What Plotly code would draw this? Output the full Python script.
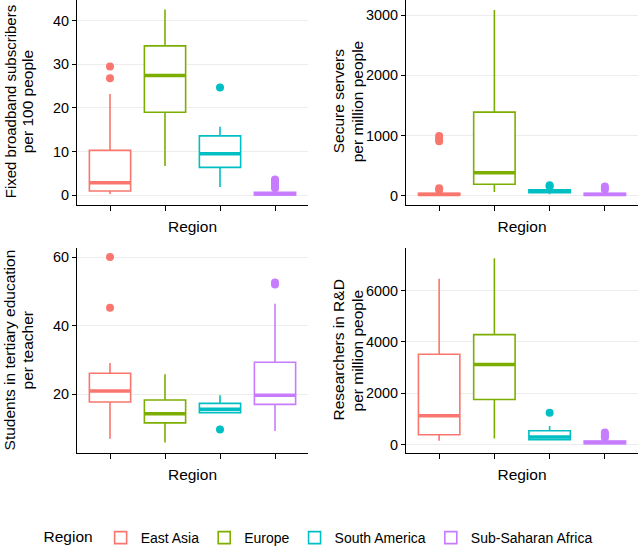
import plotly.graph_objects as go

regions = ["East Asia", "Europe", "South America", "Sub-Saharan Africa"]
colors = ["#F8766D", "#7CAE00", "#00BFC4", "#C77CFF"]
positions = [1, 2, 3, 4]

# Fixed broadband subscribers per 100 people
bb_low = [0.3, 6.7, 1.9, 0.0]
bb_q1 = [1.0, 19.0, 6.4, 0.1]
bb_med = [2.9, 27.4, 9.5, 0.3]
bb_q3 = [10.3, 34.2, 13.6, 0.7]
bb_high = [23.2, 42.5, 15.7, 1.3]
bb_out = [[26.8, 29.5], [], [24.7], [1.6, 2.0, 2.4, 2.8, 3.2, 3.6]]

# Secure servers per million people
ss_low = [0, 60, 20, 0]
ss_q1 = [8, 187, 45, 5]
ss_med = [15, 380, 70, 15]
ss_q3 = [35, 1388, 95, 35]
ss_high = [70, 3090, 120, 80]
ss_out = [[90, 120, 905, 950, 990], [], [150, 170], [100, 125, 150]]

# Students in tertiary education per teacher
st_low = [7.0, 5.9, 14.6, 9.2]
st_q1 = [17.7, 11.6, 14.6, 17.0]
st_med = [20.9, 14.3, 15.6, 19.7]
st_q3 = [26.1, 18.3, 17.3, 29.3]
st_high = [29.1, 25.8, 19.7, 46.4]
st_out = [[45.2, 60.0], [], [9.7], [52.0, 52.6]]

# Researchers in R&D per million people
rd_low = [155, 245, 180, 20]
rd_q1 = [388, 1760, 200, 40]
rd_med = [1126, 3120, 300, 85]
rd_q3 = [3522, 4285, 545, 140]
rd_high = [6460, 7260, 725, 220]
rd_out = [[], [], [1243], [280, 350, 420, 480]]

# y titles, two lines each
bb_title = ["Fixed broadband subscribers", "per 100 people"]
ss_title = ["Secure servers", "per million people"]
st_title = ["Students in tertiary education", "per teacher"]
rd_title = ["Researchers in R&D", "per million people"]

panels = [
    ("x", "y", bb_low, bb_q1, bb_med, bb_q3, bb_high, bb_out),
    ("x2", "y2", ss_low, ss_q1, ss_med, ss_q3, ss_high, ss_out),
    ("x3", "y3", st_low, st_q1, st_med, st_q3, st_high, st_out),
    ("x4", "y4", rd_low, rd_q1, rd_med, rd_q3, rd_high, rd_out),
]

fig = go.Figure()
for p, (xa, ya, lo, q1, med, q3, hi, out) in enumerate(panels):
    for i in range(4):
        fig.add_trace(go.Box(
            x=[positions[i]], q1=[q1[i]], median=[med[i]], q3=[q3[i]],
            lowerfence=[lo[i]], upperfence=[hi[i]], width=0.75,
            name=regions[i], legendgroup=regions[i], showlegend=(p == 0),
            line=dict(color=colors[i], width=1.6), fillcolor="white",
            whiskerwidth=0, boxpoints=False, xaxis=xa, yaxis=ya,
            hoverinfo="skip"))
        # thick ggplot-style median line
        fig.add_trace(go.Scatter(
            x=[positions[i] - 0.375, positions[i] + 0.375], y=[med[i], med[i]],
            mode="lines", line=dict(color=colors[i], width=3.5),
            showlegend=False, xaxis=xa, yaxis=ya, hoverinfo="skip"))
        if out[i]:
            fig.add_trace(go.Scatter(
                x=[positions[i]] * len(out[i]), y=out[i], mode="markers",
                marker=dict(color=colors[i], size=8), showlegend=False,
                xaxis=xa, yaxis=ya, hoverinfo="skip"))

font = "Liberation Sans, Arial, sans-serif"
xcommon = dict(range=[0.4, 4.6], tickvals=positions, ticktext=["", "", "", ""],
               ticks="outside", ticklen=5, tickcolor="black", showline=True,
               linecolor="black", linewidth=1.3, showgrid=False, zeroline=False,
               automargin=False,
               title=dict(text="Region", standoff=8, font=dict(size=15.5, color="black")))
ycommon = dict(ticks="outside", ticklen=4, tickcolor="black", showline=True,
               linecolor="black", linewidth=1.3, showgrid=True, gridcolor="#EDEDED",
               gridwidth=1, zeroline=False, automargin=False,
               tickfont=dict(size=14.4, color="black"))

W, H = 639, 554
left = [77 / W, 308 / W]
right = [406 / W, 638 / W]
top = [1 - 206 / H, 1.0]
bottom = [1 - 456 / H, 1 - 250 / H]

# y-axis titles as rotated annotations (pixel spots)
annotations = []
for lines, xs, yc, sizes in [
    (bb_title, [10, 27], 103, [15, 15.5]),
    (ss_title, [338, 357], 102, [15.5, 15.5]),
    (st_title, [9, 27], 353, [15.5, 15.5]),
    (rd_title, [338, 357], 353, [15.5, 15.5]),
]:
    for text, xp, sz in zip(lines, xs, sizes):
        annotations.append(dict(text=text, x=xp / W, y=1 - yc / H, xref="paper", yref="paper",
                                xanchor="center", yanchor="middle", textangle=-90,
                                showarrow=False, font=dict(size=sz, color="black")))

fig.update_layout(
    width=W, height=H,
    margin=dict(l=0, r=0, t=0, b=0),
    paper_bgcolor="white", plot_bgcolor="white",
    font=dict(family=font, size=14.5, color="black"),
    xaxis=dict(domain=left, anchor="y", **xcommon),
    yaxis=dict(domain=top, anchor="x", range=[-2.1, 44.7], tickvals=[0, 10, 20, 30, 40], **ycommon),
    xaxis2=dict(domain=right, anchor="y2", **xcommon),
    yaxis2=dict(domain=top, anchor="x2", range=[-150, 3256], tickvals=[0, 1000, 2000, 3000], **ycommon),
    xaxis3=dict(domain=left, anchor="y3", **xcommon),
    yaxis3=dict(domain=bottom, anchor="x3", range=[2.9, 62.6], tickvals=[20, 40, 60], **ycommon),
    xaxis4=dict(domain=right, anchor="y4", **xcommon),
    yaxis4=dict(domain=bottom, anchor="x4", range=[-310, 7650], tickvals=[0, 2000, 4000, 6000], **ycommon),
    annotations=annotations,
    legend=dict(orientation="h", x=0.5, xanchor="center", y=(H - 542) / H, yanchor="middle",
                title=dict(text="Region", font=dict(size=15.5)), font=dict(size=14),
                itemwidth=30),
    showlegend=True,
)

# page has a default 8px body margin; drop it so the figure sits at the window corner
fig.write_html("out.html", config={"displayModeBar": False},
               post_script="document.body.style.margin='0';document.body.style.overflow='hidden';")
